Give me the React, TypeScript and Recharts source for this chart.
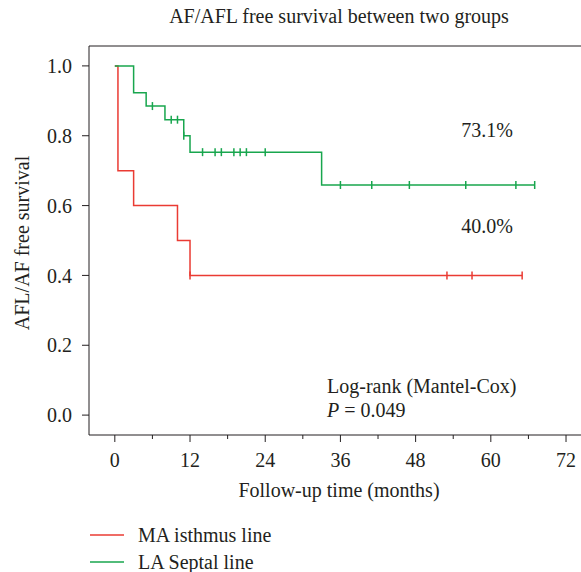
import { Line, LineChart, ReferenceLine, XAxis, YAxis } from "recharts";

// LA Septal line (green)
const septalTimes = [0, 3, 5, 6, 8, 9, 10, 11, 11, 12, 14, 16, 17, 19, 20, 21, 24, 33, 36, 41, 47, 56, 64, 67];
const septalSurvival = [1, 0.923, 0.885, 0.885, 0.846, 0.846, 0.846, 0.8, 0.8, 0.753, 0.753, 0.753, 0.753, 0.753, 0.753, 0.753, 0.753, 0.659, 0.659, 0.659, 0.659, 0.659, 0.659, 0.659];
const septalCensored = [0, 0, 0, 1, 0, 1, 1, 0, 1, 0, 1, 1, 1, 1, 1, 1, 1, 0, 1, 1, 1, 1, 1, 1];

// MA isthmus line (red)
const isthmusTimes = [0, 0.5, 3, 10, 12, 12, 53, 57, 65];
const isthmusSurvival = [1, 0.7, 0.6, 0.5, 0.4, 0.4, 0.4, 0.4, 0.4];
const isthmusCensored = [0, 0, 0, 0, 0, 1, 1, 1, 1];

const xTicks = [0, 6, 12, 18, 24, 30, 36, 42, 48, 54, 60, 66, 72];
const yTicks = [0, 0.2, 0.4, 0.6, 0.8, 1.0];

const RED = "#ea3b33";
const GREEN = "#18a64e";
const INK = "#231f20";
const FONT = "'Liberation Serif', 'DejaVu Serif', serif";
const FS = 20;

const septalData = septalTimes.map((t, i) => ({ t, s: septalSurvival[i], c: septalCensored[i] }));
const isthmusData = isthmusTimes.map((t, i) => ({ t, s: isthmusSurvival[i], c: isthmusCensored[i] }));

function censorDot(color: string) {
  return (props: any) => {
    const { cx, cy, payload, index } = props;
    if (!payload?.c) return <g key={index} />;
    return <line key={index} x1={cx} x2={cx} y1={cy - 4} y2={cy + 4} stroke={color} strokeWidth={1.5} />;
  };
}

function XTick(props: any) {
  const { x, y, payload } = props;
  const major = payload.value % 12 === 0;
  return (
    <g>
      <line x1={x} x2={x} y1={y} y2={y + (major ? 7 : 4)} stroke={INK} strokeWidth={1} />
      {major && (
        <text x={x} y={y + 32} textAnchor="middle" fontSize={FS} fontFamily={FONT} fill={INK}>
          {payload.value}
        </text>
      )}
    </g>
  );
}

export default function App() {
  return (
    <div style={{ position: "absolute", left: 0, top: 0, width: 581, height: 572, background: "#fff" }}>
      <LineChart width={581} height={572} data={septalData} margin={{ top: 46, right: 0, bottom: 107, left: 29 }}>
        <XAxis
          dataKey="t"
          type="number"
          domain={[-4.12, 74.39]}
          ticks={xTicks}
          allowDataOverflow
          tick={<XTick />}
          tickLine={false}
          tickSize={0}
          tickMargin={0}
          height={30}
          stroke={INK}
        />
        <YAxis
          type="number"
          domain={[-0.057, 1.057]}
          ticks={yTicks}
          allowDataOverflow
          width={60}
          tickSize={7}
          tickMargin={10}
          tickFormatter={(v: number) => v.toFixed(1)}
          tick={{ fontSize: FS, fontFamily: FONT, fill: INK }}
          stroke={INK}
        />
        <ReferenceLine y={1.057} stroke={INK} />
        <Line
          data={isthmusData}
          dataKey="s"
          type="stepAfter"
          stroke={RED}
          strokeWidth={1.5}
          dot={censorDot(RED)}
          activeDot={false}
          isAnimationActive={false}
        />
        <Line
          data={septalData}
          dataKey="s"
          type="stepAfter"
          stroke={GREEN}
          strokeWidth={1.5}
          dot={censorDot(GREEN)}
          activeDot={false}
          isAnimationActive={false}
        />
      </LineChart>
      <svg width={581} height={572} style={{ position: "absolute", left: 0, top: 0, pointerEvents: "none" }}>
        <g fontFamily={FONT} fill={INK} fontSize={FS}>
          <text x={339} y={23}textAnchor="middle">
            AF/AFL free survival between two groups
          </text>
          <text x={22} y={243} textAnchor="middle" transform="rotate(-90 22 243)" dy={7}>
            AFL/AF free survival
          </text>
          <text x={339} y={497} textAnchor="middle">
            Follow-up time (months)
          </text>
          <text x={487} y={137} textAnchor="middle">73.1%</text>
          <text x={487} y={233} textAnchor="middle">40.0%</text>
          <text x={327} y={393}>Log-rank (Mantel-Cox)</text>
          <text x={327} y={417}>
            <tspan fontStyle="italic">P</tspan> = 0.049
          </text>
          <line x1={90} x2={124} y1={535} y2={535} stroke={RED} strokeWidth={1.5} />
          <text x={138} y={542}>MA isthmus line</text>
          <line x1={90} x2={124} y1={562} y2={562} stroke={GREEN} strokeWidth={1.5} />
          <text x={138} y={569}>LA Septal line</text>
        </g>
      </svg>
    </div>
  );
}
